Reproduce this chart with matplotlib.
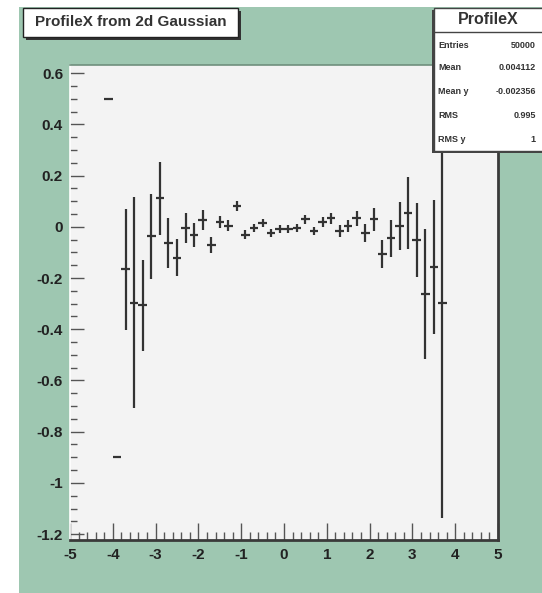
import matplotlib
matplotlib.use('Agg')
import matplotlib.pyplot as plt
from matplotlib.patches import Rectangle
from matplotlib.ticker import MultipleLocator

# Profile bins (bin width 0.2), only the filled bins
x_centers = [-4.1, -3.9, -3.7, -3.5, -3.3, -3.1, -2.9, -2.7, -2.5, -2.3,
             -2.1, -1.9, -1.7, -1.5, -1.3, -1.1, -0.9, -0.7, -0.5, -0.3,
             -0.1, 0.1, 0.3, 0.5, 0.7, 0.9, 1.1, 1.3, 1.5, 1.7,
             1.9, 2.1, 2.3, 2.5, 2.7, 2.9, 3.1, 3.3, 3.5, 3.7]
y_means = [0.50, -0.90, -0.165, -0.296, -0.306, -0.037, 0.111, -0.063, -0.121, -0.006,
           -0.033, 0.027, -0.071, 0.020, 0.005, 0.082, -0.030, -0.005, 0.014, -0.025,
           -0.007, -0.007, -0.005, 0.029, -0.016, 0.020, 0.033, -0.016, 0.003, 0.033,
           -0.023, 0.029, -0.105, -0.044, 0.003, 0.055, -0.052, -0.263, -0.157, -0.297]
y_errs = [0.0, 0.0, 0.236, 0.413, 0.178, 0.165, 0.143, 0.096, 0.072, 0.059,
          0.047, 0.038, 0.033, 0.024, 0.021, 0.019, 0.018, 0.017, 0.016, 0.016,
          0.016, 0.016, 0.016, 0.017, 0.017, 0.019, 0.020, 0.022, 0.025, 0.030,
          0.036, 0.045, 0.055, 0.072, 0.095, 0.140, 0.145, 0.253, 0.260, 0.842]
bin_half_width = 0.1

title_text = 'ProfileX from 2d Gaussian'
stats_name = 'ProfileX'
stats_labels = ['Entries', 'Mean', 'Mean y', 'RMS', 'RMS y']
stats_values = ['50000', '0.004112', '-0.002356', '0.995', '1']

W, H = 542, 593
canvas_green = '#9ec7b1'
frame_fill = '#f3f3f3'
ink = '#222222'
font = 'Liberation Sans'


def px(x, y):
    """pixel coords (origin top-left) -> figure fraction"""
    return x / W, 1 - y / H


fig = plt.figure(figsize=(W / 100, H / 100), dpi=100, facecolor='white')

# green canvas area
x0, y0 = px(19, 593)
fig.add_artist(Rectangle((x0, y0), 1 - x0, px(0, 7)[1] - y0, transform=fig.transFigure,
                         facecolor=canvas_green, edgecolor='none', zorder=0))

left, top = px(70, 65)
right, bottom = px(498, 540)
ax = fig.add_axes([left, bottom, right - left, top - bottom])
ax.set_facecolor(frame_fill)

ax.errorbar(x_centers, y_means, xerr=bin_half_width, yerr=y_errs, fmt='none',
            ecolor='#333333', elinewidth=1.6, capsize=0, zorder=3)

ax.set_xlim(-5, 5)
ax.set_ylim(-1.223, 0.632)

ax.xaxis.set_major_locator(MultipleLocator(1))
ax.xaxis.set_minor_locator(MultipleLocator(0.2))
ax.yaxis.set_major_locator(MultipleLocator(0.2))
ax.yaxis.set_minor_locator(MultipleLocator(0.05))
ax.yaxis.set_major_formatter(lambda v, pos: '0' if abs(v) < 1e-9 else ('%g' % round(v, 2)))
ax.xaxis.set_major_formatter(lambda v, pos: '%g' % round(v, 2))

ax.tick_params(axis='x', which='major', direction='in', length=12, width=1, color='#555555', pad=6)
ax.tick_params(axis='x', which='minor', direction='in', length=6, width=1, color='#555555')
ax.tick_params(axis='y', which='major', direction='in', length=10, width=1, color='#555555', pad=5)
ax.tick_params(axis='y', which='minor', direction='in', length=5, width=1, color='#555555')
ax.tick_params(top=False, right=False, which='both')
for lab in ax.get_xticklabels() + ax.get_yticklabels():
    lab.set_fontfamily(font)
    lab.set_fontweight('bold')
    lab.set_fontsize(11)
    lab.set_color(ink)

ax.spines['top'].set_color('#6f8f7d')
ax.spines['top'].set_linewidth(1.2)
ax.spines['left'].set_color('#ffffff')
ax.spines['left'].set_linewidth(1.2)
ax.spines['right'].set_color('#3a3a3a')
ax.spines['right'].set_linewidth(2)
ax.spines['bottom'].set_color('#3a3a3a')
ax.spines['bottom'].set_linewidth(2)

# title box with shadow
tx0, ty0 = px(23, 37)
tx1, ty1 = px(238, 8)
sh_x, sh_y = 3 / W, 3 / H
fig.add_artist(Rectangle((tx0 + sh_x, ty0 - sh_y), tx1 - tx0, ty1 - ty0, transform=fig.transFigure,
                         facecolor='#333333', edgecolor='none', zorder=5))
fig.add_artist(Rectangle((tx0, ty0), tx1 - tx0, ty1 - ty0, transform=fig.transFigure,
                         facecolor='white', edgecolor='#222222', linewidth=1, zorder=6))
fig.text((tx0 + tx1) / 2, (ty0 + ty1) / 2, title_text, ha='center', va='center',
         fontsize=11, fontweight='bold', family=font, color='#333333', zorder=7)

# stats box
sx0, sy0 = px(434, 151)
sx1, sy1 = px(545, 8)
fig.add_artist(Rectangle((sx0 - 2 / W, sy0 - 2 / H), sx1 - sx0, sy1 - sy0, transform=fig.transFigure,
                         facecolor='#444444', edgecolor='none', zorder=5))
fig.add_artist(Rectangle((sx0, sy0), sx1 - sx0, sy1 - sy0, transform=fig.transFigure,
                         facecolor='white', edgecolor='#444444', linewidth=1, zorder=6))
hx, hy = px(434, 32)
fig.add_artist(plt.Line2D([sx0, 1], [hy, hy], transform=fig.transFigure,
                          color='#444444', linewidth=1, zorder=7))
fig.text(px(488, 0)[0], px(0, 20)[1], stats_name, ha='center', va='center',
         fontsize=11.5, fontweight='bold', family=font, color='#333333', zorder=8)
row_y = [45, 68, 92, 115, 139]
for lbl, val, ry in zip(stats_labels, stats_values, row_y):
    fig.text(px(438, 0)[0], px(0, ry)[1], lbl, ha='left', va='center',
             fontsize=6.5, fontweight='bold', family=font, color='#333333', zorder=8)
    fig.text(px(536, 0)[0], px(0, ry)[1], val, ha='right', va='center',
             fontsize=6.5, fontweight='bold', family=font, color='#333333', zorder=8)

fig.savefig('out.png', dpi=100, facecolor='white')
